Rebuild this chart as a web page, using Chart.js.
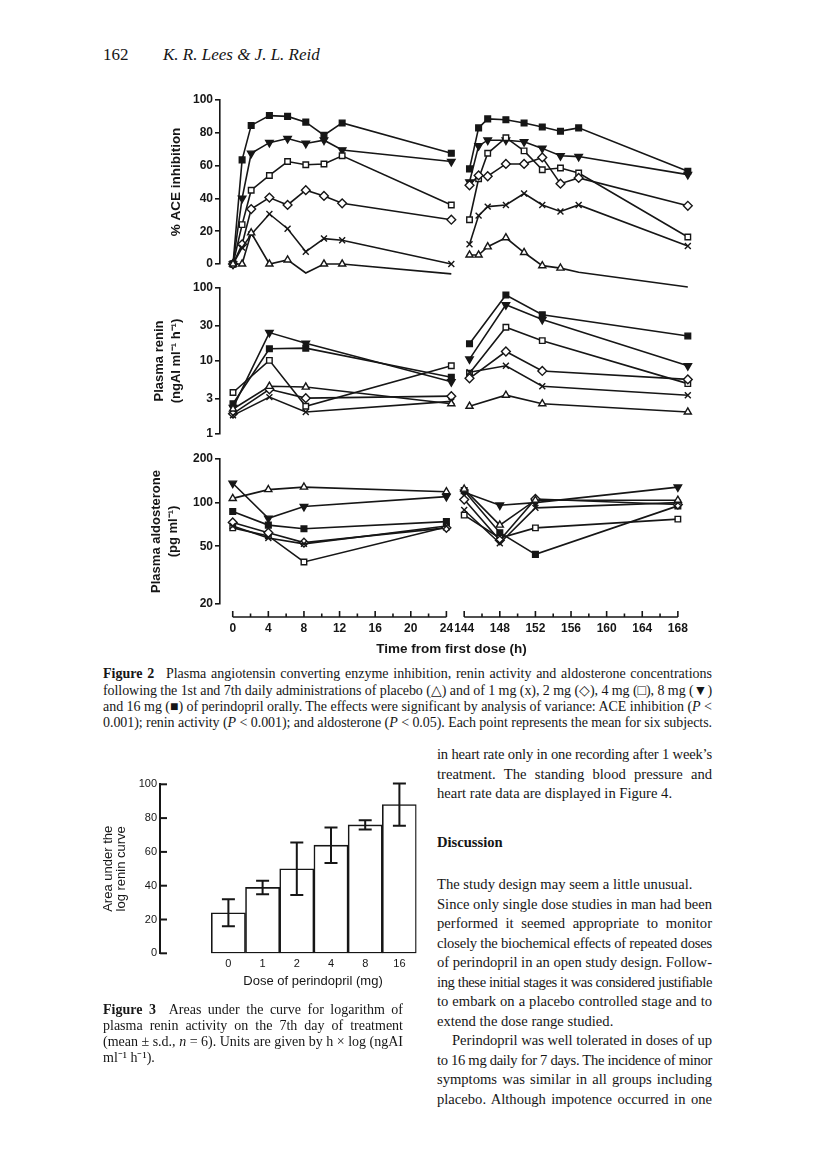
<!DOCTYPE html>
<html>
<head>
<meta charset="utf-8">
<title>Lees &amp; Reid, p. 162</title>
<script src="https://cdn.jsdelivr.net/npm/chart.js@4.4.1/dist/chart.umd.min.js"></script>
<style>
  body { margin: 0; background: #fff; }
  #page { position: relative; width: 816px; height: 1170px; overflow: hidden; background: #fff; color: #161616;
          font-family: "Liberation Serif", "Times New Roman", serif; }
  #page canvas { position: absolute; }
  .ln { position: absolute; white-space: nowrap; }
  .cap { font-size: 14px; line-height: 16px; }
  .txt { font-size: 14.6px; line-height: 18px; }
  .sans { font-family: "Liberation Sans", Arial, sans-serif; }
</style>
</head>
<body>
<div id="page">
  <div class="ln" style="left:103px;top:45px;font-size:17px;line-height:20px">162</div>
  <div class="ln" style="left:163px;top:45px;font-size:17px;line-height:20px;font-style:italic">K. R. Lees &amp; J. L. Reid</div>

  <canvas id="ace" width="565" height="200" style="left:140px;top:90px"></canvas>
  <canvas id="renin" width="565" height="166" style="left:140px;top:278px"></canvas>
  <canvas id="aldo" width="565" height="216" style="left:140px;top:449px"></canvas>

  <div class="ln cap" data-w="609" style="left:103px;top:666px"><b>Figure 2</b>&ensp; Plasma angiotensin converting enzyme inhibition, renin activity and aldosterone concentrations</div>
  <div class="ln cap" data-w="609" style="left:103px;top:682.5px">following the 1st and 7th daily administrations of placebo (△) and of 1 mg (x), 2 mg (◇), 4 mg (□), 8 mg (▼)</div>
  <div class="ln cap" data-w="609" style="left:103px;top:699px">and 16 mg (■) of perindopril orally. The effects were significant by analysis of variance: ACE inhibition (<i>P</i> &lt;</div>
  <div class="ln cap" data-w="609" style="left:103px;top:715px">0.001); renin activity (<i>P</i> &lt; 0.001); and aldosterone (<i>P</i> &lt; 0.05). Each point represents the mean for six subjects.</div>

  <canvas id="auc" width="332" height="214" style="left:95px;top:770px"></canvas>
  <div class="ln sans" style="left:313px;top:973px;font-size:13px;line-height:16px;transform:translateX(-50%)">Dose of perindopril (mg)</div>

  <div class="ln cap" data-w="300" style="left:103px;top:1002px"><b>Figure 3</b>&ensp; Areas under the curve for logarithm of</div>
  <div class="ln cap" data-w="300" style="left:103px;top:1018px">plasma renin activity on the 7th day of treatment</div>
  <div class="ln cap" data-w="300" style="left:103px;top:1034px">(mean ± s.d., <i>n</i> = 6). Units are given by h × log (ngAI</div>
  <div class="ln cap" style="left:103px;top:1050px">ml⁻¹ h⁻¹).</div>

  <div class="ln txt" data-w="275" style="left:437px;top:745px">in heart rate only in one recording after 1 week’s</div>
  <div class="ln txt" data-w="275" style="left:437px;top:764.5px">treatment. The standing blood pressure and</div>
  <div class="ln txt" style="left:437px;top:784px">heart rate data are displayed in Figure 4.</div>
  <div class="ln txt" style="left:437px;top:833px;font-weight:bold">Discussion</div>
  <div class="ln txt" style="left:437px;top:875px">The study design may seem a little unusual.</div>
  <div class="ln txt" data-w="275" style="left:437px;top:894.5px">Since only single dose studies in man had been</div>
  <div class="ln txt" data-w="275" style="left:437px;top:914px">performed it seemed appropriate to monitor</div>
  <div class="ln txt" data-w="275" style="left:437px;top:933.5px">closely the biochemical effects of repeated doses</div>
  <div class="ln txt" data-w="275" style="left:437px;top:953px">of perindopril in an open study design. Follow-</div>
  <div class="ln txt" data-w="275" style="left:437px;top:972.5px">ing these initial stages it was considered justifiable</div>
  <div class="ln txt" data-w="275" style="left:437px;top:992px">to embark on a placebo controlled stage and to</div>
  <div class="ln txt" style="left:437px;top:1011.5px">extend the dose range studied.</div>
  <div class="ln txt" data-w="260" style="left:452px;top:1031px">Perindopril was well tolerated in doses of up</div>
  <div class="ln txt" data-w="275" style="left:437px;top:1050.5px">to 16 mg daily for 7 days. The incidence of minor</div>
  <div class="ln txt" data-w="275" style="left:437px;top:1070px">symptoms was similar in all groups including</div>
  <div class="ln txt" data-w="275" style="left:437px;top:1089.5px">placebo. Although impotence occurred in one</div>
</div>

<script>
// Figure 2 values (order: placebo, 1, 2, 4, 8, 16 mg)
const aceTimes = [0, 1, 2, 4, 6, 8, 10, 12, 24, 144, 145, 146, 148, 150, 152, 154, 156, 168];
const acePlacebo = [0, 0, 19, 0, 2.5, -5.5, 0, 0, -6, 5.5, 5.5, 10.5, 16, 7, -1, -2.5, -5, -14];
const ace1mg = [0, 10, 18, 30.5, 21.5, 7.5, 15.5, 14.5, 0, 12, 29.5, 35, 36, 43, 36, 32, 36, 11];
const ace2mg = [0, 12, 33.5, 40.5, 36, 45, 41.5, 37, 27, 48, 54, 53.5, 61, 61, 65, 49, 52.5, 35.5];
const ace4mg = [0, 24, 45, 54, 62.5, 60.5, 61, 66, 36, 27, 52, 67.5, 77, 69, 57.5, 58.5, 55.5, 16.5];
const ace8mg = [0, 40, 67.5, 74, 76.5, 73.5, 75.5, 69.5, 62.5, 50, 72, 75.5, 75.5, 74.5, 70.5, 66, 65.5, 54.5];
const ace16mg = [0, 63.5, 84.5, 90.5, 90, 86.5, 78.5, 86, 67.5, 58, 83, 88.5, 88, 86, 83.5, 81, 83, 56.5];

const hormoneTimes = [0, 4, 8, 24, 144, 148, 152, 168];
const reninPlacebo = [2.2, 4.5, 4.4, 2.6, 2.4, 3.4, 2.6, 2.0];
const renin1mg = [1.8, 3.2, 2.0, 2.8, 7.0, 8.6, 4.5, 3.4];
const renin2mg = [1.9, 4.1, 3.1, 3.3, 5.8, 13.5, 7.3, 5.6];
const renin4mg = [3.7, 10.2, 2.4, 8.6, 6.8, 29, 19, 4.9];
const renin8mg = [2.3, 24.5, 17.5, 5.2, 10.6, 59, 37, 8.6];
const renin16mg = [2.6, 14.7, 15, 6.0, 17.2, 80, 43, 22];

const aldoPlacebo = [107, 123, 128, 119, 124, 70, 104, 104];
const aldo1mg = [69, 57, 52, 69, 89, 52.5, 92, 100];
const aldo2mg = [73, 62, 53, 67, 105, 55, 106, 97];
const aldo4mg = [67, 59, 39, 68, 82, 57, 67, 77];
const aldo8mg = [136, 78, 94, 110, 118, 96, 100, 128];
const aldo16mg = [87, 70, 66, 74, 121, 62, 44, 95];

const aceTicks = [0, 20, 40, 60, 80, 100];
const reninTicks = [1, 3, 10, 30, 100];
const aldoTicks = [20, 50, 100, 200];
const timeTicksDay1 = [0, 4, 8, 12, 16, 20, 24];
const timeTicksDay7 = [144, 148, 152, 156, 160, 164, 168];

// Figure 3 values
const doseLabels = ['0', '1', '2', '4', '8', '16'];
const aucMean = [24, 39, 50, 64, 76, 88];
const aucSd = [8, 4, 15.5, 10.5, 2.7, 12.5];
const aucTicks = [0, 20, 40, 60, 80, 100];

const INK = '#161616';
Chart.defaults.font.family = '"Liberation Sans", Arial, sans-serif';
Chart.defaults.color = INK;

// the time axis is broken between 24 h and 144 h: 144 h sits 2 units after 24 h
function axisPos(t) { return t <= 24 ? t : t - 144 + 26; }
function timeLabel(v) {
  const h = v <= 24 ? v : v - 26 + 144;
  return h % 4 === 0 ? String(h) : '';
}
const X_MIN = -1.43, X_MAX = 50.57;

const doseNames = ['placebo', '1 mg', '2 mg', '4 mg', '8 mg', '16 mg'];
const doseStyles = [
  { shape: 'triangle', fill: '#fff', rot: 0, r: 4.1 },
  { shape: 'crossRot', fill: '#fff', rot: 0, r: 4.2 },
  { shape: 'rectRot', fill: '#fff', rot: 0, r: 4.4 },
  { shape: 'rect', fill: '#fff', rot: 0, r: 3.9 },
  { shape: 'triangle', fill: INK, rot: 180, r: 4.3 },
  { shape: 'rect', fill: INK, rot: 0, r: 4.0 }
];

function toPoints(times, values) {
  const pts = [];
  times.forEach((t, i) => {
    if (t >= 144 && pts.length && pts[pts.length - 1].x <= 24) pts.push({ x: 25, y: null });
    pts.push({ x: axisPos(t), y: values[i] });
  });
  return pts;
}

function makeDatasets(times, seriesList) {
  return seriesList.map((vals, i) => ({
    label: doseNames[i],
    data: toPoints(times, vals),
    borderColor: INK,
    borderWidth: 1.6,
    pointStyle: doseStyles[i].shape,
    pointRotation: doseStyles[i].rot,
    pointRadius: doseStyles[i].r,
    pointBackgroundColor: doseStyles[i].fill,
    pointBorderColor: INK,
    pointBorderWidth: 1.4,
    spanGaps: false,
    clip: false,
    tension: 0
  }));
}

function yAxis(type, min, max, tickValues, titleText, titlePad, titleSize) {
  return {
    type: type, min: min, max: max,
    afterFit: s => { s.width = 80; },
    afterBuildTicks: s => { s.ticks = tickValues.map(v => ({ value: v })); },
    border: { display: true, color: INK, width: 1.6 },
    grid: { drawOnChartArea: false, drawTicks: true, tickLength: 5, color: INK, lineWidth: 1.6 },
    ticks: { color: INK, font: { size: 12, weight: 'bold' }, padding: 2, autoSkip: false, callback: v => String(v) },
    title: { display: true, text: titleText, color: INK, font: { size: titleSize, weight: 'bold', lineHeight: 1.3 }, padding: { top: titlePad, bottom: 0 } }
  };
}

const hiddenX = { type: 'linear', min: X_MIN, max: X_MAX, display: false };

const brokenTimeAxis = {
  id: 'brokenTimeAxis',
  afterDraw(chart) {
    const xs = chart.scales.x, ctx = chart.ctx;
    const y = chart.chartArea.bottom + 13;
    ctx.save();
    ctx.strokeStyle = INK;
    ctx.lineWidth = 1.6;
    [[0, 24], [144, 168]].forEach(([a, b]) => {
      ctx.beginPath();
      ctx.moveTo(xs.getPixelForValue(axisPos(a)), y);
      ctx.lineTo(xs.getPixelForValue(axisPos(b)), y);
      ctx.stroke();
      for (let h = a; h <= b; h += 2) {
        const px = xs.getPixelForValue(axisPos(h));
        ctx.beginPath();
        ctx.moveTo(px, y);
        ctx.lineTo(px, y - (h % 4 === 0 ? 6 : 3.5));
        ctx.stroke();
      }
    });
    ctx.restore();
  }
};

function panel(id, datasets, yScale, xScale, padding, plugins) {
  return new Chart(document.getElementById(id), {
    type: 'line',
    data: { datasets: datasets },
    options: {
      responsive: false,
      animation: false,
      layout: { padding: padding },
      plugins: { legend: { display: false }, tooltip: { enabled: false } },
      scales: { x: xScale, y: yScale }
    },
    plugins: plugins || []
  });
}

panel('ace',
  makeDatasets(aceTimes, [acePlacebo, ace1mg, ace2mg, ace4mg, ace8mg, ace16mg]),
  yAxis('linear', 0, 100, aceTicks, '% ACE inhibition', 28, 13.5),
  hiddenX,
  { top: 10, bottom: 26, left: 0, right: 12 });

panel('renin',
  makeDatasets(hormoneTimes, [reninPlacebo, renin1mg, renin2mg, renin4mg, renin8mg, renin16mg]),
  yAxis('logarithmic', 1, 100, reninTicks, ['Plasma renin', '(ngAI ml⁻¹ h⁻¹)'], 11, 13),
  hiddenX,
  { top: 10, bottom: 10, left: 0, right: 12 });

panel('aldo',
  makeDatasets(hormoneTimes, [aldoPlacebo, aldo1mg, aldo2mg, aldo4mg, aldo8mg, aldo16mg]),
  yAxis('logarithmic', 20, 200, aldoTicks, ['Plasma aldosterone', '(pg ml⁻¹)'], 8, 13),
  {
    type: 'linear', min: X_MIN, max: X_MAX,
    afterFit: s => { s.height = 55; },
    afterBuildTicks: s => { s.ticks = timeTicksDay1.concat(timeTicksDay7).map(t => ({ value: axisPos(t) })); },
    grid: { display: false, drawTicks: false },
    border: { display: false },
    ticks: { callback: v => timeLabel(v), color: INK, font: { size: 12, weight: 'bold' }, padding: 17, autoSkip: false, maxRotation: 0, minRotation: 0 },
    title: { display: true, text: 'Time from first dose (h)', color: INK, font: { size: 13.5, weight: 'bold' }, padding: { top: 0, bottom: 2 } }
  },
  { top: 10, bottom: 6, left: 0, right: 12 },
  [brokenTimeAxis]);

// Figure 3: inward tick marks and mean ± s.d. whiskers
const inwardTicks = {
  id: 'inwardTicks',
  afterDraw(chart) {
    const ys = chart.scales.y, ctx = chart.ctx, x0 = chart.chartArea.left;
    ctx.save();
    ctx.strokeStyle = INK;
    ctx.lineWidth = 2;
    ys.ticks.forEach(t => {
      const py = ys.getPixelForValue(t.value);
      ctx.beginPath();
      ctx.moveTo(x0, py);
      ctx.lineTo(x0 + 7, py);
      ctx.stroke();
    });
    ctx.restore();
  }
};

const errorBars = {
  id: 'errorBars',
  afterDatasetsDraw(chart) {
    const xs = chart.scales.x, ys = chart.scales.y, ctx = chart.ctx;
    ctx.save();
    ctx.strokeStyle = INK;
    ctx.lineWidth = 2;
    aucMean.forEach((m, i) => {
      const px = xs.getPixelForValue(i);
      const hi = ys.getPixelForValue(m + aucSd[i]);
      const lo = ys.getPixelForValue(m - aucSd[i]);
      ctx.beginPath();
      ctx.moveTo(px, hi); ctx.lineTo(px, lo);
      ctx.moveTo(px - 6.5, hi); ctx.lineTo(px + 6.5, hi);
      ctx.moveTo(px - 6.5, lo); ctx.lineTo(px + 6.5, lo);
      ctx.stroke();
    });
    ctx.restore();
  }
};

new Chart(document.getElementById('auc'), {
  type: 'bar',
  data: {
    datasets: [{
      label: 'AUC log renin',
      data: doseLabels.map((d, i) => ({ x: i, y: aucMean[i] })),
      backgroundColor: '#fff',
      borderColor: INK,
      borderWidth: 1.6,
      borderSkipped: false,
      barPercentage: 1,
      categoryPercentage: 1
    }]
  },
  options: {
    responsive: false,
    animation: false,
    layout: { padding: { top: 14.3, right: 10.5, bottom: 10, left: 0 } },
    plugins: { legend: { display: false }, tooltip: { enabled: false } },
    scales: {
      x: {
        type: 'linear', min: -2, max: 5.5, offset: false,
        afterFit: s => { s.height = 20.7; },
        afterBuildTicks: s => { s.ticks = doseLabels.map((d, i) => ({ value: i })); },
        grid: { display: false, drawTicks: false, offset: false },
        border: { display: false },
        ticks: { callback: v => doseLabels[v], color: INK, font: { size: 11 }, padding: 4, autoSkip: false, maxRotation: 0 }
      },
      y: {
        min: 0, max: 100,
        afterFit: s => { s.width = 65; },
        afterBuildTicks: s => { s.ticks = aucTicks.map(v => ({ value: v })); },
        grid: { display: false, drawTicks: false },
        border: { display: true, color: INK, width: 2 },
        ticks: { color: INK, font: { size: 11 }, padding: 3 },
        title: { display: true, text: ['Area under the', 'log renin curve'], color: INK, font: { size: 13, lineHeight: 1.03 }, padding: { top: 6.6, bottom: 0 } }
      }
    }
  },
  plugins: [inwardTicks, errorBars]
});

// justify the typeset lines to their column width; squeeze letters when a line runs long
document.querySelectorAll('[data-w]').forEach(el => {
  const target = parseFloat(el.dataset.w);
  const natural = el.getBoundingClientRect().width;
  const text = el.textContent;
  const gaps = (text.match(/ /g) || []).length;
  const diff = target - natural;
  if (diff >= 0) {
    if (gaps) el.style.wordSpacing = (diff / gaps) + 'px';
  } else {
    el.style.letterSpacing = (diff / text.length) + 'px';
    const after = el.getBoundingClientRect().width;
    if (gaps) el.style.wordSpacing = ((target - after) / gaps) + 'px';
  }
});
</script>
</body>
</html>
